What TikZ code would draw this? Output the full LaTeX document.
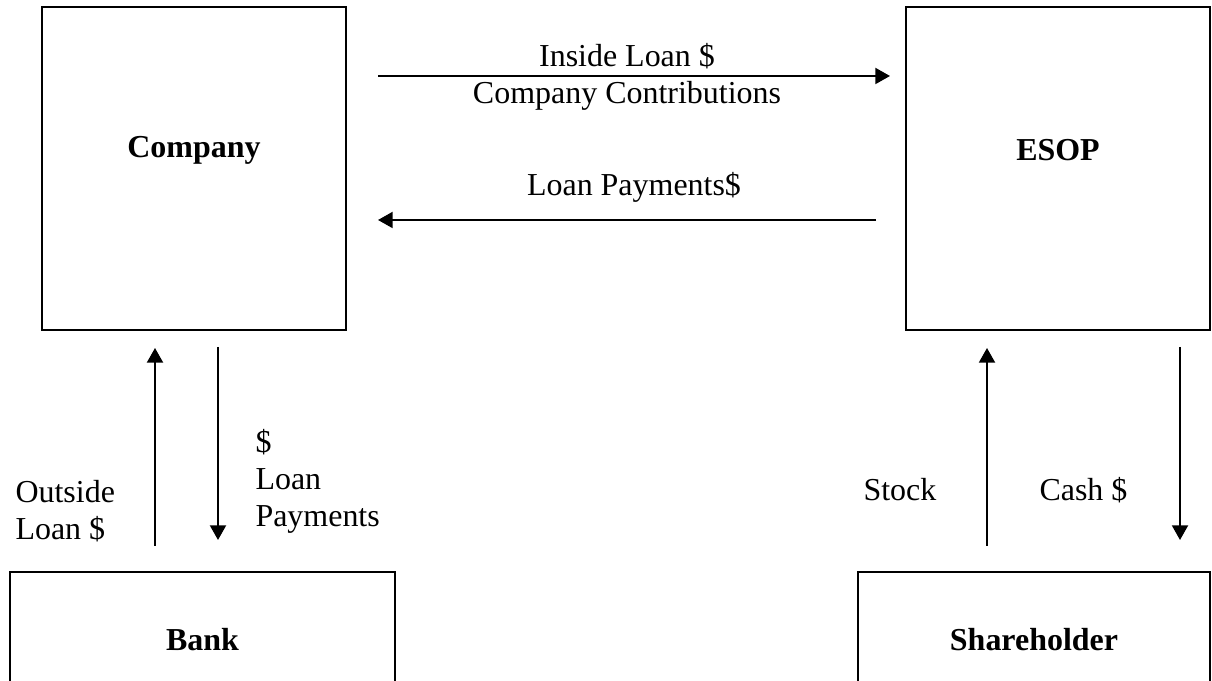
\documentclass[tikz,border=0pt]{standalone}
\usepackage{fontspec}
\setmainfont{Liberation Serif}
\usetikzlibrary{arrows.meta,positioning}

\begin{document}
\begin{tikzpicture}[x=0.0132cm,y=-0.0132cm,
        font=\fontsize{12pt}{13.9pt}\selectfont,
        block/.style={draw,line width=0.8pt,inner sep=0pt,outer sep=0pt},
        title/.style={font=\fontsize{12pt}{13.9pt}\selectfont\bfseries},
        txt/.style={inner sep=0pt,align=left},
        flow/.style={-{Triangle[length=5.5pt,width=6pt]},line width=0.75pt}]
        \useasboundingbox (0,0) rectangle (1212,681);
        \clip (0,0) rectangle (1212,681);

        \node[block,minimum width=4.01cm,minimum height=4.26cm] (company) at (194,168.5) {};
        \node[title] (companyname) at (194,150) {Company};
        \node[block,minimum width=4.01cm,minimum height=4.26cm] (esop) at (1058,168.5) {};
        \node[title] (esopname) at (1058,150) {ESOP};
        \node[block,minimum width=5.08cm,minimum height=1.85cm] (bank) at (202.5,642) {};
        \node[title] (bankname) at (202.5,640) {Bank};
        \node[block,minimum width=4.65cm,minimum height=1.85cm] (holder) at (1034,642) {};
        \node[title] (holdername) at (1034,640) {Shareholder};

        \coordinate (inA) at (378,76);
        \coordinate (inB) at (890,76);
        \coordinate (payA) at (876,220);
        \coordinate (payB) at (378,220);
        \coordinate (outA) at (155,546);
        \coordinate (outB) at (155,348);
        \coordinate (backA) at (218,347);
        \coordinate (backB) at (218,540);
        \coordinate (stockA) at (987,546);
        \coordinate (stockB) at (987,348);
        \coordinate (cashA) at (1180,347);
        \coordinate (cashB) at (1180,540);

        \draw[flow] (inA) -- (inB);
        \draw[flow] (payA) -- (payB);
        \draw[flow] (outA) -- (outB);
        \draw[flow] (backA) -- (backB);
        \draw[flow] (stockA) -- (stockB);
        \draw[flow] (cashA) -- (cashB);

        \node[txt,anchor=base] (inlbl) at (627,67) {Inside Loan \$};
        \node[txt,anchor=base] (contrib) at (627,104) {Company Contributions};
        \node[txt,anchor=base] (paylbl) at (634,196) {Loan Payments\$};
        \node[txt,anchor=north west] (outlbl) at (15,480) {Outside\\Loan \$};
        \node[txt,anchor=north west] (backlbl) at (255,429) {\$\\Loan\\Payments};
        \node[txt,anchor=base west] (stocklbl) at (863,501) {Stock};
        \node[txt,anchor=base west] (cashlbl) at (1039,501) {Cash \$};
\end{tikzpicture}
\end{document}
